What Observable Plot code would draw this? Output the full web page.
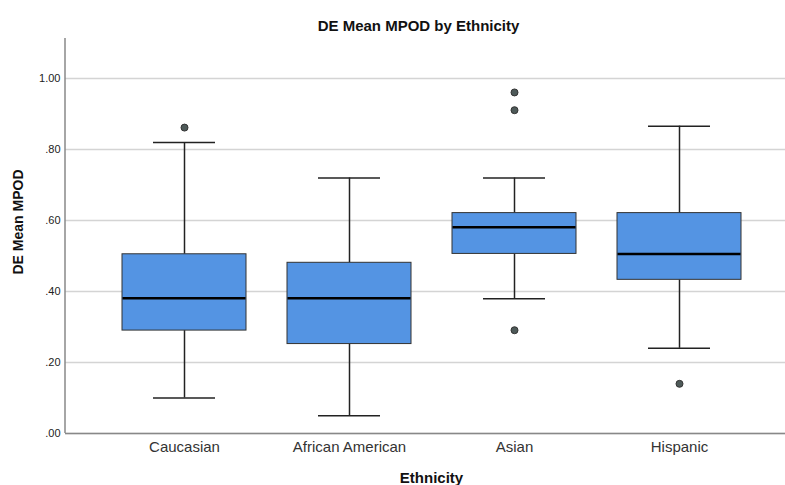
<!DOCTYPE html>
<html>
<head>
<meta charset="utf-8">
<script src="https://cdn.jsdelivr.net/npm/d3@7"></script>
<script src="https://cdn.jsdelivr.net/npm/@observablehq/plot@0.6"></script>
<style>
  html, body { margin: 0; padding: 0; background: #fff; }
  svg { display: block; }
</style>
</head>
<body>
<div id="chart"></div>
<script>
const categories = ["Caucasian", "African American", "Asian", "Hispanic"];
const lowerWhisker = [0.10, 0.05, 0.38, 0.24];
const q1 = [0.29, 0.252, 0.506, 0.433];
const median = [0.381, 0.381, 0.581, 0.506];
const q3 = [0.505, 0.481, 0.621, 0.621];
const upperWhisker = [0.82, 0.72, 0.72, 0.866];
const outlierCategory = ["Caucasian", "Asian", "Asian", "Asian", "Hispanic"];
const outlierValue = [0.862, 0.961, 0.911, 0.291, 0.14];
const yTicks = [0, 0.2, 0.4, 0.6, 0.8, 1.0];

const boxes = categories.map((c, i) => ({
  cat: c, lo: lowerWhisker[i], q1: q1[i], med: median[i], q3: q3[i], hi: upperWhisker[i]
}));
const outliers = outlierCategory.map((c, i) => ({cat: c, v: outlierValue[i]}));

const fmt = d => d3.format(".2f")(d).replace(/^0\./, ".");

const chart = Plot.plot({
  width: 785,
  height: 485,
  marginLeft: 65,
  marginRight: 0,
  marginTop: 38,
  marginBottom: 52,
  style: {fontFamily: "Arial, 'Liberation Sans', sans-serif", background: "#fff"},
  x: {domain: categories, range: [101.2, 761.2], paddingInner: 0.25, paddingOuter: 0.125, label: null},
  y: {domain: [0, 1.113], label: null},
  marks: [
    Plot.gridY(yTicks, {stroke: "#d4d4d4", strokeOpacity: 1, strokeWidth: 1.5}),
    Plot.axisY(yTicks, {tickFormat: fmt, tickSize: 0, tickPadding: 5, fontSize: 11, fill: "#222", label: null}),
    Plot.axisX({tickSize: 0, tickPadding: 8, fontSize: 15, fill: "#333", label: null}),
    Plot.ruleY([0], {stroke: "#888", strokeWidth: 1.5}),
    // whiskers
    Plot.ruleX(boxes, {x: "cat", y1: "lo", y2: "q1", stroke: "#222", strokeWidth: 1.5}),
    Plot.ruleX(boxes, {x: "cat", y1: "q3", y2: "hi", stroke: "#222", strokeWidth: 1.5}),
    Plot.tickY(boxes, {x: "cat", y: "lo", stroke: "#222", strokeWidth: 1.5, inset: 31}),
    Plot.tickY(boxes, {x: "cat", y: "hi", stroke: "#222", strokeWidth: 1.5, inset: 31}),
    // boxes
    Plot.barY(boxes, {x: "cat", y1: "q1", y2: "q3", fill: "#5494e3", stroke: "#333", strokeWidth: 1}),
    Plot.tickY(boxes, {x: "cat", y: "med", stroke: "#000", strokeWidth: 2.5, inset: 0.5}),
    // outliers
    Plot.dot(outliers, {x: "cat", y: "v", r: 3.5, fill: "#4e5a59", stroke: "#333", strokeWidth: 1}),
    // titles
    Plot.text(["DE Mean MPOD by Ethnicity"], {frameAnchor: "top", dx: -7, dy: -18, fontSize: 15, fontWeight: "bold", fill: "#111"}),
    Plot.text(["Ethnicity"], {frameAnchor: "bottom", dx: 6, dy: 49, fontSize: 15, fontWeight: "bold", fill: "#111"}),
    Plot.text(["DE Mean MPOD"], {frameAnchor: "left", textAnchor: "middle", rotate: -90, dx: -47, dy: -14, fontSize: 14, fontWeight: "bold", fill: "#111"})
  ]
});

// left axis line
const svg = d3.select(chart);
svg.append("line")
  .attr("x1", 65).attr("x2", 65).attr("y1", 38).attr("y2", 433)
  .attr("stroke", "#888").attr("stroke-width", 1.5);

document.getElementById("chart").appendChild(chart);
</script>
</body>
</html>
